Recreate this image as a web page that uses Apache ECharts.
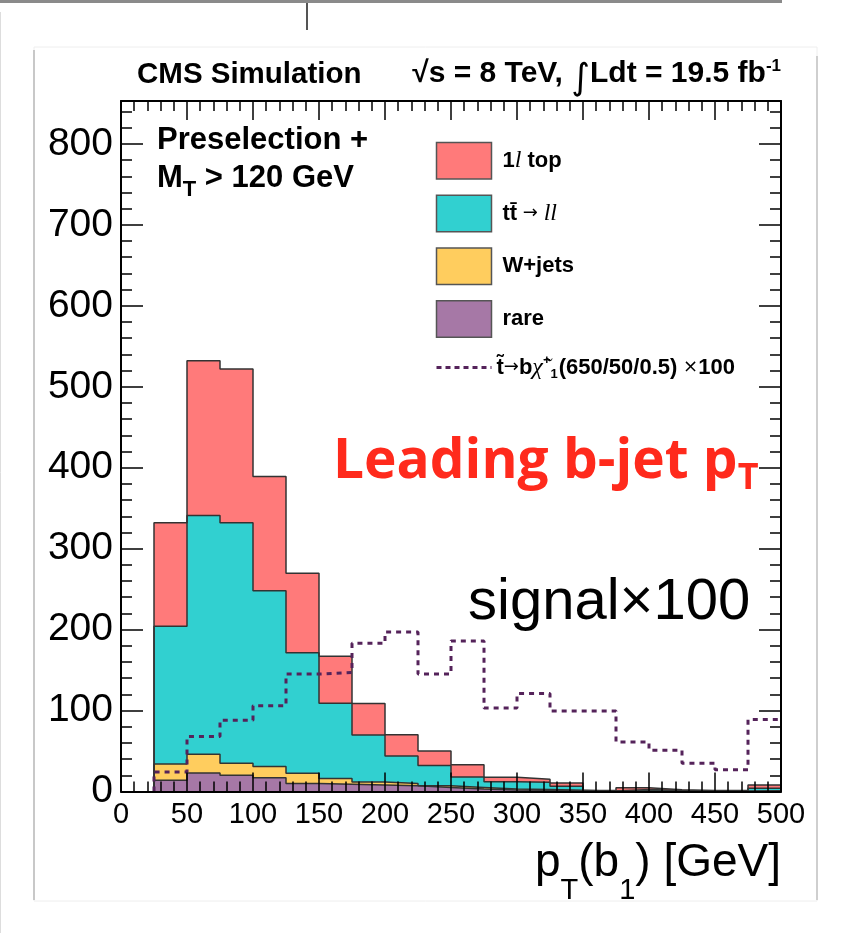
<!DOCTYPE html>
<html>
<head>
<meta charset="utf-8">
<script src="https://cdn.jsdelivr.net/npm/echarts@6/dist/echarts.min.js"></script>
<style>html,body{margin:0;padding:0;background:#fff;}#c{width:849px;height:933px;}</style>
</head>
<body>
<div id="c"></div>
<script>
// ---- data ----
const binLow  = [25, 50, 75, 100, 125, 150, 175, 200, 225, 250, 275, 300, 325, 350, 375, 400, 425, 450, 475];
const binHigh = 500;
const rare   = [14, 23, 20, 17, 10, 9, 8, 7, 5, 3, 2, 1.5, 1, 0.3, 0.3, 0.3, 0.3, 0.3, 0.5];
const wjets  = [20, 23, 15, 14, 12.5, 7, 3.7, 3, 2, 2, 1, 1, 0.5, 0.1, 0.2, 0.1, 0.1, 0.1, 0.5];
const ttll   = [170, 295, 297, 217, 149, 93, 58, 34, 25, 13, 9, 9, 5, 0.3, 2, 0.7, 0.3, 0.3, 3];
const top1l  = [128, 191, 190, 141, 98, 58, 39, 26, 18, 15, 5.5, 3.6, 4, 0.5, 2, 1, 0.5, 0.5, 4];
const signal = [24, 68, 88, 106, 145, 147, 183, 197, 145, 186, 103, 121, 99.5, 99.5, 61, 51, 35, 27, 89];
const xTicks = [0, 50, 100, 150, 200, 250, 300, 350, 400, 450, 500];
const yTicks = [0, 100, 200, 300, 400, 500, 600, 700, 800];

const FONT = 'Liberation Sans';
const C_TOP = '#ff7a7a', C_TT = '#31d0d0', C_W = '#ffcd5e', C_RARE = '#a678a6', C_SIG = '#55235a';
const EDGE = '#333333';

function cumulative(layers) {
  return binLow.map((_, i) => layers.reduce((s, a) => s + a[i], 0));
}
const lvRare = cumulative([rare]);
const lvW    = cumulative([rare, wjets]);
const lvTT   = cumulative([rare, wjets, ttll]);
const lvTop  = cumulative([rare, wjets, ttll, top1l]);

function histStep(levels) {
  const d = [[binLow[0], 0]];
  levels.forEach((v, i) => d.push([binLow[i], v]));
  d.push([binHigh, 0]);
  return d;
}
function lineStep(vals) {
  const d = [[binLow[0], 0]];
  vals.forEach((v, i) => d.push([binLow[i], v]));
  d.push([binHigh, vals[vals.length - 1]]);
  return d;
}
function stackSeries(name, levels, color) {
  return {
    name, type: 'line', step: 'end', data: histStep(levels),
    xAxisIndex: 0, yAxisIndex: 0,
    showSymbol: false, symbol: 'none', z: 2,
    lineStyle: { color: EDGE, width: 1.5 },
    itemStyle: { color: color },
    areaStyle: { color: color, opacity: 1 }
  };
}

const yMax = 853;
const legendNames = {
  'top1l': '{p|1}{i|l}{n| top}',
  'ttll': '{p|tt\u0304}{a| \u2192 }{i|ll}',
  'wjets': '{p|W+jets}',
  'rare': '{p|rare}',
  'signal': '{n|t\u0303}{a|\u2192}{n|b}{g|\u03c7\u0303}{sup|+}{sub|1}{n|(650/50/0.5)}{a| \u00d7}{n|100}'
};

function yAxisCfg(grid, pos, interval, len, withLine, withLabel) {
  return {
    type: 'value', gridIndex: grid, min: yTicks[0], max: yMax, interval: interval, position: pos, z: 10,
    axisLine: { show: withLine, onZero: false, lineStyle: { color: '#000', width: 2 } },
    axisTick: { show: true, inside: true, length: len, lineStyle: { color: '#000', width: 1.5 } },
    splitLine: { show: false },
    axisLabel: withLabel ? {
      show: true, color: '#000', fontFamily: FONT, fontSize: 39, margin: 8,
      formatter: v => (yTicks.indexOf(v) >= 0 ? String(v) : '')
    } : { show: false }
  };
}
function xAxisCfg(grid, pos, withLabel, visible) {
  return {
    type: 'value', gridIndex: grid, show: visible,
    min: xTicks[0], max: xTicks[xTicks.length - 1], interval: xTicks[1] - xTicks[0],
    position: pos, z: 10,
    axisLine: { show: true, onZero: false, lineStyle: { color: '#000', width: 2 } },
    axisTick: { show: true, inside: true, length: 19, lineStyle: { color: '#000', width: 1.5 } },
    minorTick: { show: true, splitNumber: 5, length: 10, lineStyle: { color: '#000', width: 1.5 } },
    splitLine: { show: false },
    axisLabel: withLabel ? { show: true, color: '#000', fontFamily: FONT, fontSize: 29, margin: 9 } : { show: false }
  };
}
const majorY = yTicks[1] - yTicks[0];
const gridRect = { left: 121, top: 101, width: 660, height: 690.5, show: false, containLabel: false, outerBoundsMode: 'none' };
const nStyle = { fontFamily: FONT, fontWeight: 'bold', fontSize: 22, color: '#000', lineHeight: 30, verticalAlign: 'middle' };

const option = {
  animation: false,
  backgroundColor: '#fff',
  grid: [Object.assign({}, gridRect), Object.assign({}, gridRect)],
  xAxis: [
    xAxisCfg(0, 'bottom', true, true),
    xAxisCfg(0, 'top', false, true),
    xAxisCfg(1, 'bottom', false, false)
  ],
  yAxis: [
    yAxisCfg(0, 'left', majorY, 22, true, true),
    yAxisCfg(0, 'right', majorY, 22, true, false),
    yAxisCfg(1, 'left', majorY / 5, 11, false, false),
    yAxisCfg(1, 'right', majorY / 5, 11, false, false)
  ],
  legend: {
    orient: 'vertical', left: 435, top: 141.7, padding: 0,
    itemWidth: 55, itemHeight: 36.5, itemGap: 14.8,
    selectedMode: false,
    data: [
      { name: 'top1l', icon: 'rect', itemStyle: { color: C_TOP, borderColor: '#555', borderWidth: 1.5 } },
      { name: 'ttll', icon: 'rect', itemStyle: { color: C_TT, borderColor: '#555', borderWidth: 1.5 } },
      { name: 'wjets', icon: 'rect', itemStyle: { color: C_W, borderColor: '#555', borderWidth: 1.5 } },
      { name: 'rare', icon: 'rect', itemStyle: { color: C_RARE, borderColor: '#555', borderWidth: 1.5 } },
      { name: 'signal', itemStyle: { opacity: 0 }, lineStyle: { color: C_SIG, width: 3, type: [5, 4], opacity: 1 } }
    ],
    formatter: name => legendNames[name],
    textStyle: {
      rich: {
        n: nStyle,
        p: Object.assign({}, nStyle, { padding: [0, 0, 0, 6] }),
        i: { fontFamily: 'Liberation Serif', fontStyle: 'italic', fontSize: 24, color: '#000', lineHeight: 30, verticalAlign: 'middle' },
        a: { fontFamily: 'DejaVu Sans', fontSize: 18, color: '#000', lineHeight: 30, verticalAlign: 'middle' },
        g: { fontFamily: 'Liberation Serif', fontStyle: 'italic', fontSize: 24, color: '#000', lineHeight: 30, verticalAlign: 'middle' },
        sup: { fontFamily: FONT, fontWeight: 'bold', fontSize: 13, color: '#000', lineHeight: 30, verticalAlign: 'middle', padding: [0, 0, 14, 0] },
        sub: { fontFamily: FONT, fontWeight: 'bold', fontSize: 13, color: '#000', lineHeight: 30, verticalAlign: 'middle', padding: [14, 1, 0, 0] }
      }
    }
  },
  series: [
    stackSeries('top1l', lvTop, C_TOP),
    stackSeries('ttll', lvTT, C_TT),
    stackSeries('wjets', lvW, C_W),
    stackSeries('rare', lvRare, C_RARE),
    {
      name: 'signal', type: 'line', step: 'end', data: lineStep(signal),
      xAxisIndex: 0, yAxisIndex: 0,
      showSymbol: false, symbol: 'none', z: 4,
      itemStyle: { color: C_SIG },
      lineStyle: { color: C_SIG, width: 3, type: [5, 5] }
    }
  ],
  graphic: [
    { type: 'rect', z: -5, shape: { x: 0, y: 0, width: 782, height: 3 }, style: { fill: '#8a8a8a' } },
    { type: 'line', z: -5, shape: { x1: 307, y1: 3, x2: 307, y2: 30 }, style: { stroke: '#555', lineWidth: 2 } },
    { type: 'line', z: -5, shape: { x1: 0.5, y1: 12, x2: 0.5, y2: 933 }, style: { stroke: '#dddddd', lineWidth: 1 } },
    { type: 'rect', z: -5, shape: { x: 34, y: 47, width: 783, height: 854 }, style: { fill: '#fff', stroke: '#eeeeee', lineWidth: 1 } },
    { type: 'line', z: -4, shape: { x1: 34, y1: 50, x2: 34, y2: 900 }, style: { stroke: '#c8c8c8', lineWidth: 2 } },
    { type: 'line', z: -4, shape: { x1: 817, y1: 56, x2: 817, y2: 900 }, style: { stroke: '#cfcfcf', lineWidth: 2 } },
    {
      type: 'text', z: 20, left: 137, top: 59.5,
      style: { text: 'CMS Simulation', fontFamily: FONT, fontWeight: 'bold', fontSize: 29.5, fill: '#000' }
    },
    {
      type: 'text', z: 20, right: 68, top: 50,
      style: {
        text: '{b|\u221as = 8 TeV, }{g|\u222b}{b|Ldt = 19.5 fb}{sup|-1}',
        rich: {
          b: { fontFamily: FONT, fontWeight: 'bold', fontSize: 30, fill: '#000', lineHeight: 48, verticalAlign: 'middle' },
          g: { fontFamily: 'DejaVu Sans', fontSize: 36, fill: '#000', lineHeight: 48, verticalAlign: 'middle', padding: [12, 0, 0, 0] },
          sup: { fontFamily: FONT, fontWeight: 'bold', fontSize: 17, fill: '#000', lineHeight: 48, verticalAlign: 'middle', padding: [0, 0, 16, 0] }
        }
      }
    },
    {
      type: 'text', z: 20, left: 157, top: 124.5,
      style: { text: 'Preselection +', fontFamily: FONT, fontWeight: 'bold', fontSize: 31, fill: '#000' }
    },
    {
      type: 'text', z: 20, left: 157, top: 156.5,
      style: {
        text: '{m|M}{s|T}{m| > 120 GeV}',
        rich: {
          m: { fontFamily: FONT, fontWeight: 'bold', fontSize: 31, fill: '#000', lineHeight: 44, verticalAlign: 'middle' },
          s: { fontFamily: FONT, fontWeight: 'bold', fontSize: 22, fill: '#000', lineHeight: 44, verticalAlign: 'middle', padding: [22, 0, 0, 0] }
        }
      }
    },
    {
      type: 'text', z: 20, left: 333, top: 427,
      style: {
        text: '{m|Leading b-jet p}{s|T}',
        rich: {
          m: { fontFamily: 'Open Sans', fontWeight: 'bold', fontSize: 55, fill: '#ff2a1c', lineHeight: 70, verticalAlign: 'middle' },
          s: { fontFamily: 'Open Sans', fontWeight: 'bold', fontSize: 36, fill: '#ff2a1c', lineHeight: 70, verticalAlign: 'middle', padding: [34, 0, 0, 0] }
        }
      }
    },
    {
      type: 'text', z: 20, left: 468, top: 574,
      style: { text: 'signal\u00d7100', fontFamily: FONT, fontSize: 58, fill: '#000' }
    },
    {
      type: 'text', z: 20, right: 68, top: 820.5,
      style: {
        text: '{m|p}{s|T}{m|(b}{s|1}{m|) [GeV]}',
        rich: {
          m: { fontFamily: FONT, fontSize: 46, fill: '#000', lineHeight: 86, verticalAlign: 'middle' },
          s: { fontFamily: FONT, fontSize: 29, fill: '#000', lineHeight: 86, verticalAlign: 'middle', padding: [56, 0, 0, 0] }
        }
      }
    }
  ]
};
const chart = echarts.init(document.getElementById('c'), null, { renderer: 'canvas' });
chart.setOption(option);
</script>
</body>
</html>
